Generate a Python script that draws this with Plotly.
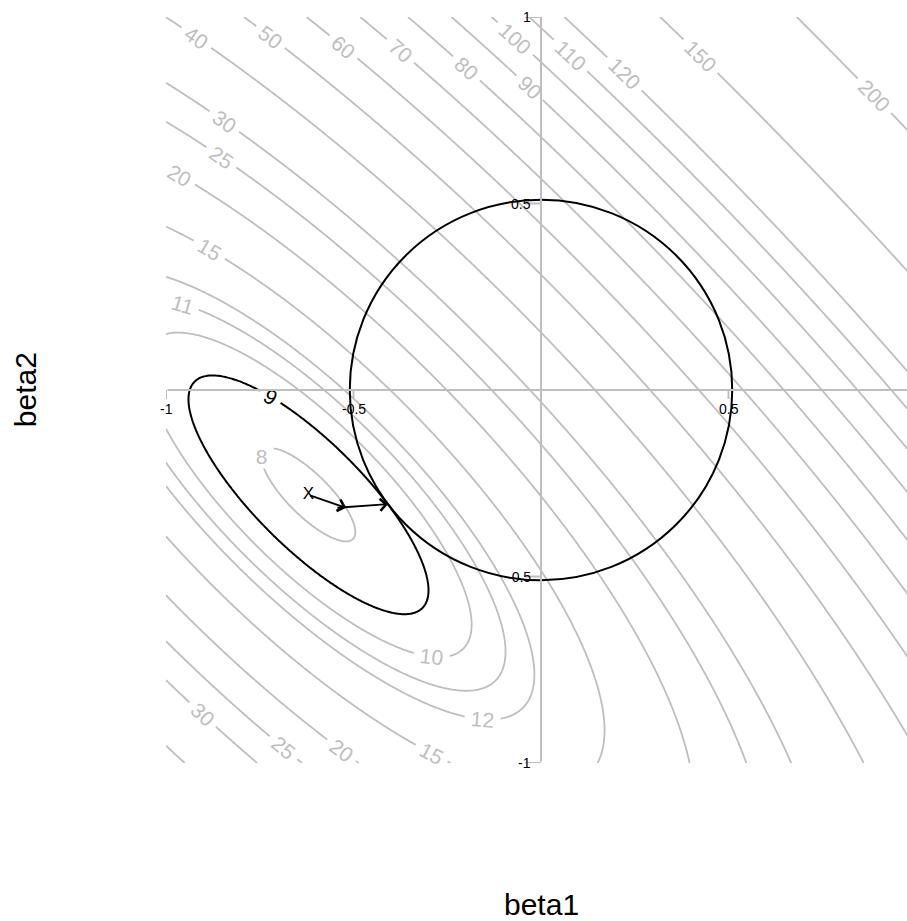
import numpy as np
import plotly.graph_objects as go

# Quadratic loss surface L(b) = loss_min + (b - b_ols)' H (b - b_ols)
ols_estimate = [-0.62, -0.281]
hessian = [[32.0, 25.6], [25.6, 32.0]]
loss_min = 7.82

# contour levels drawn in grey, plus the level touching the constraint circle
contour_levels = [8, 10, 11, 12, 15, 20, 25, 30, 40, 50, 60, 70, 80, 90,
                  100, 110, 120, 150, 200]
ridge_level = 9
ridge_radius = 0.51

# shrinkage path from the OLS estimate to the constrained estimate
arrow_start_b1 = [-0.62, -0.547]
arrow_start_b2 = [-0.281, -0.316]
arrow_end_b1 = [-0.52, -0.408]
arrow_end_b2 = [-0.316, -0.306]

tick_values = [-1, -0.5, 0.5, 1]
tick_labels = ["-1", "-0.5", "0.5", "1"]

# where each contour label sits: (level, approximate b1, approximate b2, upright);
# the point is then moved onto its contour line
label_spots = [
    (40, -0.925, 0.938, False), (50, -0.72, 0.946, False), (60, -0.525, 0.92, False),
    (70, -0.373, 0.912, False), (80, -0.195, 0.866, False), (90, -0.03, 0.81, False),
    (100, -0.061, 0.952, False), (110, 0.085, 0.903, False), (120, 0.232, 0.858, False),
    (150, 0.435, 0.903, False), (200, 0.90, 0.80, False),
    (30, -0.845, 0.718, False), (25, -0.853, 0.622, False), (20, -0.968, 0.571, False),
    (15, -0.888, 0.37, False), (11, -0.96, 0.22, False),
    (8, -0.72, -0.19, True),
    (10, -0.293, -0.713, False), (12, -0.155, -0.879, False), (15, -0.299, -0.987, False),
    (20, -0.541, -0.979, False), (25, -0.699, -0.973, False), (30, -0.92, -0.89, False),
]
ridge_label_spot = (ridge_level, -0.725, -0.021, False)

W, H_PX = 907, 921
MARGIN = dict(l=166, r=0, t=17, b=158)
X_RANGE = [-1, 0.976]
Y_RANGE = [-1, 1]
GREY = "rgb(190,190,190)"
FONT = "Liberation Sans, Arial, sans-serif"
NBSP = "\u00a0"

Hm = np.array(hessian)


def loss_at(p1, p2):
    d1, d2 = p1 - ols_estimate[0], p2 - ols_estimate[1]
    return loss_min + Hm[0, 0] * d1 ** 2 + 2 * Hm[0, 1] * d1 * d2 + Hm[1, 1] * d2 ** 2


def grad_at(p1, p2):
    d1, d2 = p1 - ols_estimate[0], p2 - ols_estimate[1]
    return (2 * (Hm[0, 0] * d1 + Hm[0, 1] * d2),
            2 * (Hm[0, 1] * d1 + Hm[1, 1] * d2))


# evaluate the loss on a grid covering [-1, 1] x [-1, 1]
b1 = np.linspace(-1, 1, 401)
b2 = np.linspace(-1, 1, 401)
B1, B2 = np.meshgrid(b1, b2)
loss = loss_at(B1, B2)

fig = go.Figure()


def add_level(level, color, width):
    fig.add_trace(go.Contour(
        x=b1, y=b2, z=loss,
        autocontour=False,
        contours=dict(start=level, end=level, size=1, coloring="none",
                      showlabels=False),
        line=dict(color=color, width=width),
        showscale=False, hoverinfo="skip",
    ))


for lvl in contour_levels:
    add_level(lvl, GREY, 1.8)
add_level(ridge_level, "black", 2)

# OLS estimate marker
fig.add_trace(go.Scatter(
    x=[ols_estimate[0]], y=[ols_estimate[1]], mode="text", text=["X"],
    textfont=dict(family=FONT, size=17, color="black"),
    hoverinfo="skip", showlegend=False,
))

px_per_x = (W - MARGIN["l"] - MARGIN["r"]) / (X_RANGE[1] - X_RANGE[0])
px_per_y = (H_PX - MARGIN["t"] - MARGIN["b"]) / (Y_RANGE[1] - Y_RANGE[0])

annotations = []


def contour_label(level, s1, s2, upright, color):
    p1, p2 = s1, s2
    for _ in range(30):
        g1, g2 = grad_at(p1, p2)
        step = (loss_at(p1, p2) - level) / (g1 * g1 + g2 * g2)
        p1, p2 = p1 - step * g1, p2 - step * g2
    g1, g2 = grad_at(p1, p2)
    vx, vy = g2 * px_per_x, g1 * px_per_y  # tangent direction on screen
    ang = np.degrees(np.arctan2(vy, vx))
    if ang > 90:
        ang -= 180
    elif ang <= -90:
        ang += 180
    if upright:
        ang = 0.0
    annotations.append(dict(
        x=p1, y=p2, xref="x", yref="y", text=NBSP + str(level) + NBSP,
        showarrow=False, textangle=float(ang), bgcolor="white", borderpad=0,
        font=dict(family=FONT, size=21, color=color)))


for lvl, s1, s2, up in label_spots:
    contour_label(lvl, s1, s2, up, GREY)
contour_label(*ridge_label_spot, "black")

# axes through the origin, drawn after the labels so they stay on top
annotations.append(dict(x=1, y=0, ax=-1, ay=0, xref="x", yref="y",
                        axref="x", ayref="y", text="", showarrow=True,
                        arrowhead=0, arrowwidth=2, arrowcolor=GREY, standoff=0))
annotations.append(dict(x=0, y=1, ax=0, ay=-1, xref="x", yref="y",
                        axref="x", ayref="y", text="", showarrow=True,
                        arrowhead=0, arrowwidth=2, arrowcolor=GREY, standoff=0))

shapes = []
for t, lab in zip(tick_values, tick_labels):
    if X_RANGE[0] <= t <= X_RANGE[1]:
        shapes.append(dict(type="line", xref="x", yref="y", ysizemode="pixel",
                           yanchor=0, x0=t, x1=t, y0=0, y1=-9,
                           line=dict(color=GREY, width=2)))
        annotations.append(dict(x=t, y=0, xref="x", yref="y", text=lab,
                                showarrow=False, yshift=-19,
                                font=dict(family=FONT, size=14, color="black")))
    shapes.append(dict(type="line", xref="x", yref="y", xsizemode="pixel",
                       xanchor=0, x0=-16, x1=0, y0=t, y1=t,
                       line=dict(color=GREY, width=2)))
    annotations.append(dict(x=0, y=t, xref="x", yref="y", text=lab,
                            showarrow=False, xanchor="right", xshift=-8,
                            font=dict(family=FONT, size=14, color="black")))

# constraint region
shapes.append(dict(type="circle", xref="x", yref="y",
                   x0=-ridge_radius, x1=ridge_radius,
                   y0=-ridge_radius, y1=ridge_radius,
                   line=dict(color="black", width=2)))

for xs, ys, xe, ye in zip(arrow_start_b1, arrow_start_b2, arrow_end_b1, arrow_end_b2):
    annotations.append(dict(x=xe, y=ye, ax=xs, ay=ys, xref="x", yref="y",
                            axref="x", ayref="y", text="", showarrow=True,
                            arrowhead=4, arrowsize=1.3, arrowwidth=1.8,
                            arrowcolor="black"))

# axis titles
annotations.append(dict(x=0, y=-0.19, xref="x", yref="paper", text="beta1",
                        showarrow=False, yanchor="middle",
                        font=dict(family=FONT, size=30, color="black")))
annotations.append(dict(x=-0.19, y=0, xref="paper", yref="y", text="beta2",
                        showarrow=False, textangle=-90, xanchor="center",
                        font=dict(family=FONT, size=30, color="black")))

fig.update_layout(
    width=W, height=H_PX,
    margin=MARGIN,
    paper_bgcolor="white", plot_bgcolor="white",
    showlegend=False,
    xaxis=dict(range=X_RANGE, visible=False, fixedrange=True),
    yaxis=dict(range=Y_RANGE, visible=False, fixedrange=True),
    shapes=shapes, annotations=annotations,
)

fig.write_html("out.html")
